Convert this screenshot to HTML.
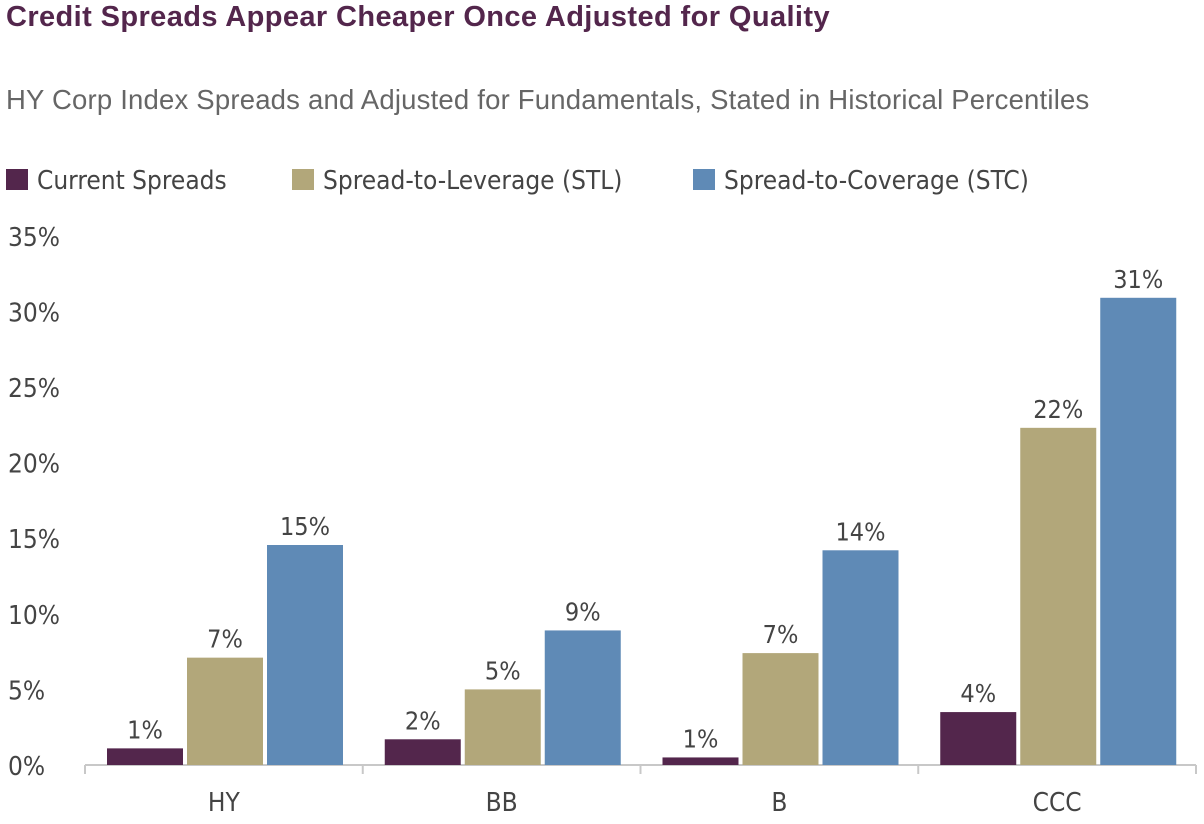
<!DOCTYPE html>
<html><head><meta charset="utf-8"><style>
body{margin:0;width:1204px;height:824px;background:#fff;font-family:"Liberation Sans",sans-serif;position:relative;overflow:hidden}
.t{position:absolute;white-space:nowrap}
</style></head><body>
<div class="t" style="left:6px;top:1px;font-size:29px;font-weight:bold;color:#53264c;letter-spacing:0.4px">Credit Spreads Appear Cheaper Once Adjusted for Quality</div>
<div class="t" style="left:6px;top:84px;font-size:27.5px;color:#666;letter-spacing:0.2px">HY Corp Index Spreads and Adjusted for Fundamentals, Stated in Historical Percentiles</div>
<svg id="c" width="1204" height="824" style="position:absolute;left:0;top:0"></svg>
<script>
const categories=["HY","BB","B","CCC"];
const seriesNames=["Current Spreads","Spread-to-Leverage (STL)","Spread-to-Coverage (STC)"];
const currentSpreads=[1.1,1.7,0.5,3.5];
const stl=[7.1,5.0,7.4,22.3];
const stc=[14.55,8.9,14.2,30.9];
const valueLabels=[["1%","2%","1%","4%"],["7%","5%","7%","22%"],["15%","9%","14%","31%"]];
const yTicks=[0,5,10,15,20,25,30,35];
const colors=["#53264c","#b2a77a","#5f8ab6"];
const series=[currentSpreads,stl,stc];
const svg=document.getElementById('c');const NS="http://www.w3.org/2000/svg";
const x0=85,x1=1196,y0=765,pp=75.6/5;
const y=v=>y0-v*pp;
const gw=(x1-x0)/categories.length;
function mk(t,a,txt){const e=document.createElementNS(NS,t);for(const k in a)e.setAttribute(k,a[k]);if(txt!==undefined)e.textContent=txt;svg.appendChild(e);return e;}
const F='"DejaVu Sans Condensed","Liberation Sans Narrow","Liberation Sans",sans-serif';
yTicks.forEach(v=>{const e=mk('text',{x:8,y:y(v)+10,'font-size':26,fill:'#444','font-family':F},v+'%');

});
const ax=mk('path',{d:`M${x0},${y0} H${x1}`,stroke:'#c8c8c8','stroke-width':2,fill:'none'});


for(let i=0;i<=categories.length;i++){const t=mk('line',{x1:x0+i*gw,x2:x0+i*gw,y1:y0,y2:y0+9,stroke:'#c8c8c8','stroke-width':2});

}
const bw=76,gap=4,off=22;
categories.forEach((c,i)=>{
 const l=mk('text',{x:x0+i*gw+gw/2,y:811,'text-anchor':'middle','font-size':26,fill:'#444','font-family':F},c);
 
 
 series.forEach((s,j)=>{
  const bx=x0+i*gw+off+j*(bw+gap);
  const r=mk('rect',{x:bx,y:y(s[i]),width:bw,height:y0-y(s[i]),fill:colors[j]});
  
  
  const vl=mk('text',{x:bx+bw/2,y:y(s[i])-10,'text-anchor':'middle','font-size':25,fill:'#444','font-family':F},valueLabels[j][i]);
  
  
 });
});
const lx=[6,292,693];
seriesNames.forEach((n,j)=>{
 const r=mk('rect',{x:lx[j],y:169,width:22,height:21,fill:colors[j]});
 
 
 const t=mk('text',{x:lx[j]+31,y:189,'font-size':26,fill:'#444','font-family':F},n);
 
 
});
</script>
</body></html>
